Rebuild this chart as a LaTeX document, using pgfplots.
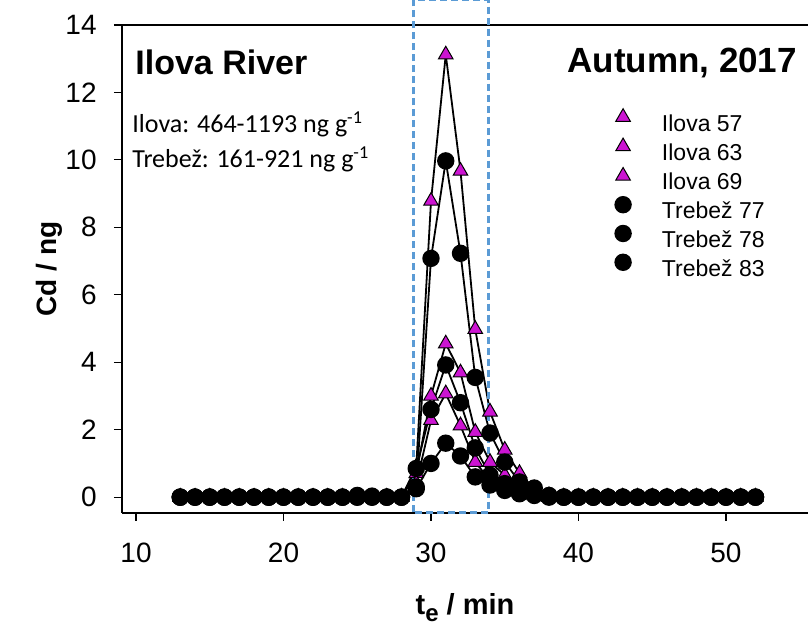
\documentclass[border=0pt]{standalone}
\usepackage{fontspec}
\setmainfont{Liberation Sans}
\newfontfamily\calibri{Carlito}
\usepackage{pgfplots}
\usepackage{pgfplotstable}
\pgfplotsset{compat=1.18}
\definecolor{mag}{RGB}{204,20,210}
\definecolor{boxblue}{RGB}{91,155,213}

\pgfplotstableread{
x A B C D E F
13 0 0 0 0 0 0
14 0 0 0 0 0 0
15 0 0 0 0 0 0
16 0 0 0 0 0 0
17 0 0 0 0 0 0
18 0 0 0 0 0 0
19 0 0 0 0 0 0
20 0 0 0 0 0 0
21 0 0 0 0 0 0
22 0 0 0 0 0 0
23 0 0 0 0 0 0
24 0 0 0 0 0 0
25 0 0 0 0.05 0 0
26 0 0 0 0.03 0 0
27 0 0 0 0 0 0
28 0 0 0 0 0 0
29 0.9 0.7 0.4 0.3 0.85 0.25
30 8.78 3.0 2.28 7.08 2.6 1.0
31 13.12 4.55 3.07 9.97 3.92 1.6
32 9.67 3.69 2.12 7.23 2.8 1.22
33 4.98 1.93 1.04 3.55 1.46 0.6
34 2.53 1.04 0.5 1.9 0.65 0.36
35 1.4 0.65 0.3 1.04 0.4 0.2
36 0.71 0.3 0.15 0.45 0.2 0.1
37 0.25 0.1 0.05 0.27 0.1 0.05
38 0.05 0.02 0 0.05 0.02 0
39 0 0 0 0 0 0
40 0 0 0 0 0 0
41 0 0 0 0 0 0
42 0 0 0 0 0 0
43 0 0 0 0 0 0
44 0 0 0 0 0 0
45 0 0 0 0 0 0
46 0 0 0 0 0 0
47 0 0 0 0 0 0
48 0 0 0 0 0 0
49 0 0 0 0 0 0
50 0 0 0 0 0 0
51 0 0 0 0 0 0
52 0 0 0 0 0 0
}\data

\begin{document}
\begin{tikzpicture}
\begin{axis}[
  scale only axis, width=343pt, height=244pt,
  xmin=9.05, xmax=55.56, ymin=-0.47, ymax=14,
  axis y line*=left,
  axis line style={line width=0.75pt},
  xtick={10,20,30,40,50}, ytick={0,2,4,6,8,10,12,14},
  xtick pos=bottom, ytick pos=left,
  tick align=outside, major tick length=4pt,
  tick style={black, line width=0.6pt},
  /pgf/number format/assume math mode=true,
  ticklabel style={font=\fontsize{14}{14}\selectfont, inner sep=0pt},
  xticklabel shift=11pt, yticklabel shift=8.5pt,
  xlabel={\textbf{t\raisebox{-3.5pt}{\fontsize{12}{12}\selectfont e} / min}},
  ylabel={\textbf{Cd / ng}},
  xlabel style={at={(axis description cs:0.5,-0.209)}, anchor=base, font=\fontsize{14.5}{14.5}\selectfont, inner sep=0pt},
  ylabel style={at={(axis description cs:-0.095,0.5)}, anchor=base, font=\fontsize{14}{14}\selectfont, inner sep=0pt},
  clip=false,
  legend style={at={(axis cs:41.85,11.53)}, anchor=north west, draw=none, fill=none,
    inner sep=0pt, row sep=1pt, column sep=7pt,
    font=\fontsize{11.5}{11.5}\selectfont,
    nodes={inner sep=0pt, text height=8.5pt, text depth=2.5pt}},
  legend cell align=left,
  legend image code/.code={\path (-8pt,0pt) (12pt,0pt); \draw[#1, only marks] plot coordinates {(0pt,4pt)};},
]
\addplot[black, line width=0.9pt, mark=triangle*, mark size=4.2pt, mark options={fill=mag, draw=black, line width=0.5pt}] table[x=x, y=A] {\data};
\addlegendentry{Ilova 57}
\addplot[black, line width=0.9pt, mark=triangle*, mark size=4.2pt, mark options={fill=mag, draw=black, line width=0.5pt}] table[x=x, y=B] {\data};
\addlegendentry{Ilova 63}
\addplot[black, line width=0.9pt, mark=triangle*, mark size=4.2pt, mark options={fill=mag, draw=black, line width=0.5pt}] table[x=x, y=C] {\data};
\addlegendentry{Ilova 69}
\addplot[black, line width=0.9pt, mark=*, mark size=3.9pt, mark options={fill=black, draw=black}] table[x=x, y=D] {\data};
\addlegendentry{Trebež 77}
\addplot[black, line width=0.9pt, mark=*, mark size=3.9pt, mark options={fill=black, draw=black}] table[x=x, y=E] {\data};
\addlegendentry{Trebež 78}
\addplot[black, line width=0.9pt, mark=*, mark size=3.9pt, mark options={fill=black, draw=black}] table[x=x, y=F] {\data};
\addlegendentry{Trebež 83}

\draw[boxblue, line width=1.2pt, dash pattern=on 3.5pt off 2pt] (axis cs:28.8,-0.45) rectangle (axis cs:33.9,14.74);

\node[anchor=base west, inner sep=0pt, font=\fontsize{17}{17}\selectfont\bfseries] at (axis cs:9.93,12.52) {Ilova River};
\node[anchor=base west, inner sep=0pt, font=\fontsize{17.5}{17.5}\selectfont\bfseries] at (axis cs:39.22,12.6) {Autumn, 2017};
\node[anchor=base west, inner sep=0pt, font=\calibri\fontsize{13}{13}\selectfont] at (axis cs:9.73,10.82) {Ilova: 464-1193 ng g\textsuperscript{-1}};
\node[anchor=base west, inner sep=0pt, font=\calibri\fontsize{13}{13}\selectfont] at (axis cs:9.73,9.78) {Trebež: 161-921 ng g\textsuperscript{-1}};
\end{axis}
\pgfresetboundingbox
\useasboundingbox ([shift={(-61pt,-55.5pt)}]current axis.south west) rectangle ([shift={(0pt,12.5pt)}]current axis.north east);
\end{tikzpicture}
\end{document}
